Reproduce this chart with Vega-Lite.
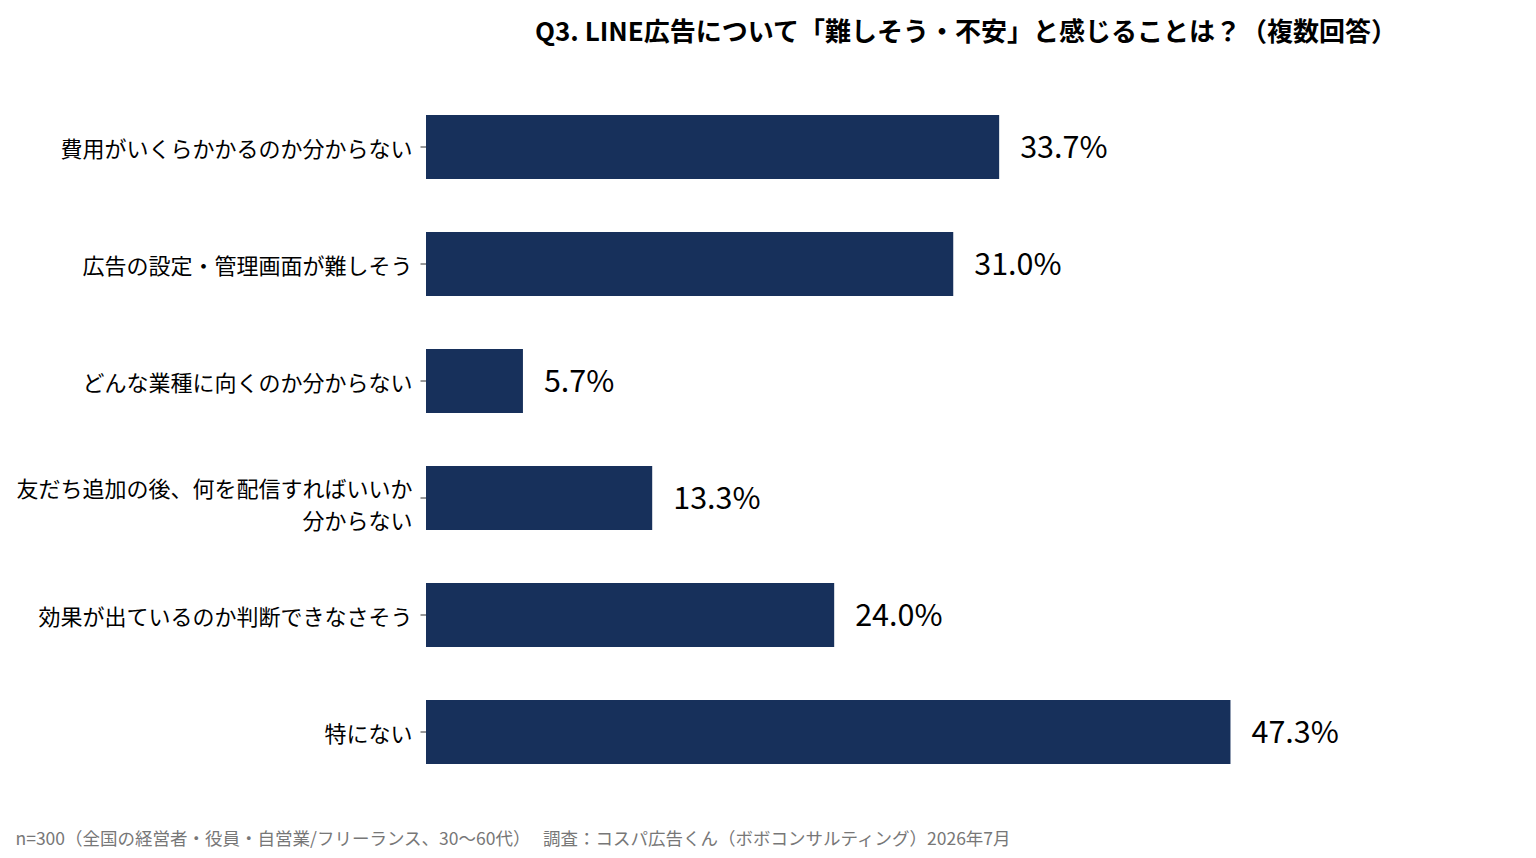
{
  "$schema": "https://vega.github.io/schema/vega-lite/v6.json",
  "width": 1080,
  "height": 702,
  "autosize": {"type": "none"},
  "padding": {"left": 426, "top": 88.5, "right": 30, "bottom": 67.5},
  "background": "white",
  "config": {
    "font": "Noto Sans CJK JP",
    "view": {"stroke": null}
  },
  "title": {
    "text": "Q3. LINE広告について「難しそう・不安」と感じることは？（複数回答）",
    "font": "Noto Sans CJK JP",
    "fontSize": 26,
    "fontWeight": "bold",
    "color": "black",
    "anchor": "middle",
    "offset": 43
  },
  "data": {
    "values": [
      {"item": "費用がいくらかかるのか分からない", "pct": 0.337},
      {"item": "広告の設定・管理画面が難しそう", "pct": 0.31},
      {"item": "どんな業種に向くのか分からない", "pct": 0.057},
      {"item": "友だち追加の後、何を配信すればいいか|分からない", "pct": 0.133},
      {"item": "効果が出ているのか判断できなさそう", "pct": 0.24},
      {"item": "特にない", "pct": 0.473}
    ]
  },
  "encoding": {
    "y": {
      "field": "item",
      "type": "nominal",
      "sort": null,
      "scale": {"paddingInner": 0.453, "paddingOuter": 0.2265},
      "axis": {
        "title": null,
        "domain": false,
        "ticks": true,
        "tickSize": 6,
        "tickColor": "#333333",
        "labelFontSize": 22,
        "labelColor": "black",
        "labelPadding": 8,
        "labelLineHeight": 32,
        "labelLimit": 500,
        "labelOffset": {"condition": {"test": "indexof(datum.value, '|') >= 0", "value": -8}, "value": 3},
        "labelExpr": "split(datum.label, '|')"
      }
    },
    "x": {
      "field": "pct",
      "type": "quantitative",
      "scale": {"domain": [0, 0.635], "nice": false},
      "axis": {
        "domain": false,
        "ticks": false,
        "labels": false,
        "grid": false,
        "title": "n=300（全国の経営者・役員・自営業/フリーランス、30〜60代）　  調査：コスパ広告くん（ボボコンサルティング）2026年7月",
        "titleFontSize": 17.5,
        "titleFontWeight": "normal",
        "titleColor": "#777777",
        "titleAnchor": "start",
        "titleAlign": "left",
        "titleBaseline": "alphabetic",
        "titleX": -411,
        "titleY": 54
      }
    }
  },
  "layer": [
    {
      "mark": {"type": "bar", "color": "#17305b"}
    },
    {
      "mark": {
        "type": "text",
        "align": "left",
        "baseline": "middle",
        "dx": 21,
        "dy": 2,
        "fontSize": 30.5,
        "color": "black"
      },
      "encoding": {
        "text": {"field": "pct", "type": "quantitative", "format": ".1%"}
      }
    }
  ]
}
